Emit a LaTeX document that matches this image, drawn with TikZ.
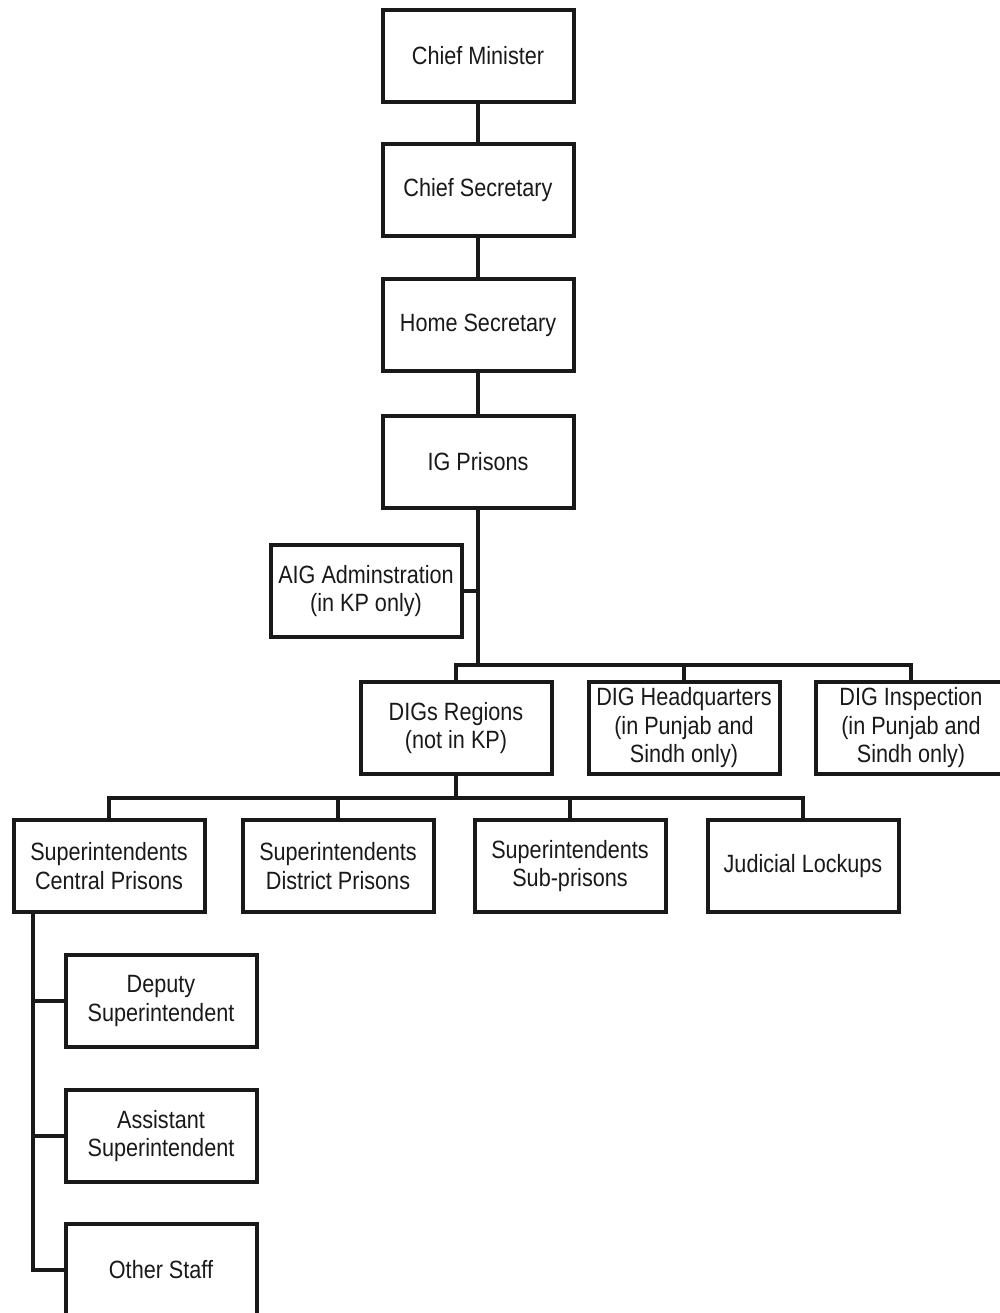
\documentclass[tikz,border=0pt]{standalone}
\usepackage{fontspec}
\setmainfont{Liberation Sans}[FakeStretch=0.865]
\begin{document}
\begin{tikzpicture}[x=1pt,y=-1pt,
  box/.style={draw=black!90,line width=4pt,minimum width=191pt,minimum height=92pt,inner sep=0pt,align=center,
    font=\fontsize{25}{28.5}\selectfont,text=black!90},
  conn/.style={draw=black!90,line width=3.6pt,line join=miter}]
\useasboundingbox (0,0) rectangle (1000,1313);
\node[box] (cm) at (478,56) {Chief Minister};
\node[box] (cs) at (478,190) {Chief Secretary};
\node[box] (hs) at (478,325) {Home Secretary};
\node[box] (ig) at (478,462) {IG Prisons};
\node[box] (aig) at (366,591) {AIG Adminstration\\(in KP only)};
\node[box] (dr) at (456,728) {DIGs Regions\\(not in KP)};
\node[box] (dh) at (684,728) {DIG Headquarters\\(in Punjab and\\Sindh only)};
\node[box] (di) at (911,728) {DIG Inspection\\(in Punjab and\\Sindh only)};
\node[box] (sc) at (109,866) {Superintendents\\Central Prisons};
\node[box] (sd) at (338,866) {Superintendents\\District Prisons};
\node[box] (ss) at (570,866) {Superintendents\\Sub-prisons};
\node[box] (jl) at (803,866) {Judicial Lockups};
\node[box] (ds) at (161,1001) {Deputy\\Superintendent};
\node[box] (as) at (161,1136) {Assistant\\Superintendent};
\node[box] (os) at (161,1270) {Other Staff};
\coordinate (j1) at (478,665);
\coordinate (j2) at (456,798);
\coordinate (spx) at (33,0);
\draw[conn] (cm) -- (cs);
\draw[conn] (cs) -- (hs);
\draw[conn] (hs) -- (ig);
\draw[conn] (ig) -- (j1);
\draw[conn] (aig.east) -- (aig.east -| ig);
\draw[conn] (dr.north) -- (dr.north |- j1) -- (di.north |- j1) -- (di.north);
\draw[conn] (dh.north) -- (dh.north |- j1);
\draw[conn] (dr) -- (j2);
\draw[conn] (sc.north) -- (sc.north |- j2) -- (jl.north |- j2) -- (jl.north);
\draw[conn] (sd.north) -- (sd.north |- j2);
\draw[conn] (ss.north) -- (ss.north |- j2);
\draw[conn] (sc.south -| spx) -- (os.west -| spx) -- (os.west);
\draw[conn] (ds.west) -- (ds.west -| spx);
\draw[conn] (as.west) -- (as.west -| spx);
\end{tikzpicture}
\end{document}
